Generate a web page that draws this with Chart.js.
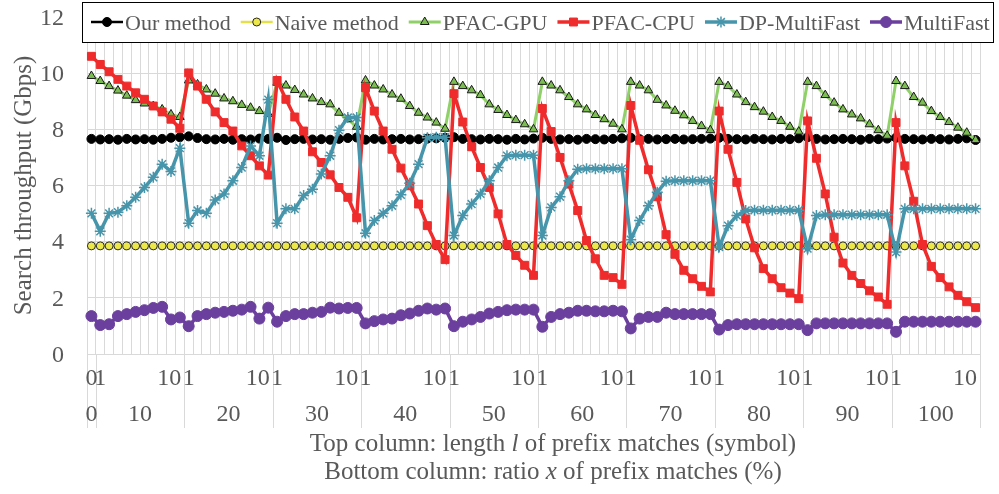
<!DOCTYPE html>
<html><head><meta charset="utf-8">
<script src="https://cdn.jsdelivr.net/npm/chart.js@4.4.1/dist/chart.umd.min.js"></script>
<style>html,body{margin:0;padding:0;background:#fff;}#wrap{width:999px;height:494px;position:relative;}</style>
</head><body><div id="wrap"><canvas id="c" width="999" height="494"></canvas></div>
<script>
// ---- categories / tick labels ----
const ratios = [0,10,20,30,40,50,60,70,80,90,100];
const lengthsPerRatio = [1,2,3,4,5,6,7,8,9,10];
const shownLengths = [0,1,10];
const catRatio = [0], catLength = [0];
for (const r of ratios.slice(1)) for (const l of lengthsPerRatio) { catRatio.push(r); catLength.push(l); }
const categories = catRatio.map((r,i) => r + '%, l=' + catLength[i]);

// ---- series (Gbps) ----
const ourMethod = [7.66,
 7.64,7.65,7.63,7.66,7.64,7.65,7.63,7.66,7.70,7.72,
 7.75,7.69,7.65,7.64,7.66,7.63,7.65,7.64,7.67,7.66,
 7.70,7.62,7.65,7.66,7.64,7.65,7.63,7.66,7.69,7.71,
 7.63,7.66,7.64,7.65,7.66,7.64,7.65,7.67,7.68,7.70,
 7.72,7.66,7.65,7.64,7.66,7.65,7.63,7.66,7.64,7.67,
 7.70,7.66,7.64,7.65,7.63,7.66,7.65,7.64,7.66,7.68,
 7.70,7.65,7.66,7.64,7.65,7.66,7.64,7.65,7.66,7.67,
 7.70,7.66,7.65,7.64,7.66,7.65,7.64,7.66,7.65,7.68,
 7.72,7.66,7.64,7.65,7.66,7.65,7.63,7.66,7.65,7.67,
 7.70,7.66,7.65,7.64,7.66,7.65,7.64,7.66,7.68,7.62];
const naiveMethod = [3.85,
 3.85,3.85,3.85,3.85,3.85,3.85,3.85,3.85,3.85,3.85,
 3.85,3.85,3.85,3.85,3.85,3.85,3.85,3.85,3.85,3.85,
 3.85,3.85,3.85,3.85,3.85,3.85,3.85,3.85,3.85,3.85,
 3.85,3.85,3.85,3.85,3.85,3.85,3.85,3.85,3.85,3.85,
 3.85,3.85,3.85,3.85,3.85,3.85,3.85,3.85,3.85,3.85,
 3.85,3.85,3.85,3.85,3.85,3.85,3.85,3.85,3.85,3.85,
 3.85,3.85,3.85,3.85,3.85,3.85,3.85,3.85,3.85,3.85,
 3.85,3.85,3.85,3.85,3.85,3.85,3.85,3.85,3.85,3.85,
 3.85,3.85,3.85,3.85,3.85,3.85,3.85,3.85,3.85,3.85,
 3.85,3.85,3.85,3.85,3.85,3.85,3.85,3.85,3.85,3.85];
const pfacGpu = [9.90,
 9.72,9.54,9.38,9.20,9.04,8.92,8.83,8.71,8.53,8.44,
 9.74,9.60,9.42,9.27,9.10,9.00,8.87,8.77,8.65,8.55,
 9.66,9.56,9.40,9.24,9.10,8.97,8.89,8.59,8.36,8.09,
 9.74,9.56,9.42,9.24,9.09,8.83,8.59,8.42,8.24,8.02,
 9.69,9.54,9.39,9.22,8.89,8.69,8.51,8.33,8.18,8.00,
 9.69,9.56,9.39,9.15,8.89,8.71,8.51,8.36,8.20,8.00,
 9.69,9.56,9.39,9.05,8.85,8.66,8.50,8.30,8.12,7.97,
 9.69,9.54,9.24,8.97,8.79,8.63,8.44,8.30,8.09,7.92,
 9.69,9.54,9.22,8.95,8.71,8.53,8.39,8.18,7.97,7.77,
 9.72,9.54,9.15,8.95,8.65,8.44,8.26,8.06,7.88,7.62];
const pfacCpu = [10.60,
 10.31,10.05,9.78,9.54,9.30,9.07,8.83,8.62,8.36,8.04,
 10.01,9.54,9.07,8.62,8.24,7.94,7.41,7.06,6.70,6.37,
 9.74,9.07,8.44,7.94,7.20,6.82,6.38,5.93,5.58,4.85,
 9.48,8.65,7.94,7.29,6.62,5.99,5.34,4.57,3.90,3.36,
 9.27,8.26,7.38,6.64,5.93,4.99,3.90,3.51,3.16,2.80,
 8.74,7.92,7.00,6.05,5.11,4.04,3.39,2.80,2.72,2.48,
 8.85,7.61,6.56,5.60,4.25,3.55,2.98,2.68,2.41,2.21,
 8.65,7.29,6.11,4.81,3.78,3.04,2.68,2.36,2.17,1.97,
 8.30,6.97,5.70,4.16,3.24,2.80,2.51,2.25,2.03,1.77,
 8.24,6.70,5.44,3.90,3.12,2.72,2.39,2.09,1.86,1.65];
const dpMultiFast = [5.01,
 4.37,5.01,5.05,5.28,5.58,5.93,6.29,6.76,6.50,7.33,
 4.66,5.11,5.01,5.48,5.70,6.17,6.64,7.41,7.06,9.06,
 4.66,5.17,5.17,5.64,5.87,6.41,7.06,7.97,8.42,8.42,
 4.30,4.75,5.01,5.28,5.67,6.08,6.76,7.70,7.72,7.72,
 4.22,4.93,5.34,5.70,6.17,6.64,7.06,7.08,7.08,7.08,
 4.22,5.22,5.60,6.17,6.58,6.60,6.60,6.60,6.60,6.60,
 4.07,4.75,5.28,5.76,6.15,6.17,6.17,6.17,6.17,6.17,
 3.81,4.57,4.93,5.11,5.12,5.12,5.12,5.12,5.12,5.12,
 3.75,4.93,4.96,4.96,4.96,4.96,4.96,4.96,4.96,4.96,
 3.63,5.17,5.17,5.17,5.17,5.17,5.17,5.17,5.17,5.17];
const multiFast = [1.35,
 1.03,1.06,1.35,1.42,1.50,1.56,1.64,1.68,1.23,1.30,
 0.99,1.35,1.42,1.47,1.50,1.54,1.58,1.68,1.26,1.65,
 1.15,1.35,1.42,1.42,1.47,1.50,1.65,1.62,1.64,1.64,
 1.09,1.17,1.23,1.26,1.38,1.44,1.54,1.62,1.58,1.62,
 0.99,1.15,1.23,1.32,1.44,1.50,1.56,1.58,1.58,1.58,
 0.97,1.32,1.42,1.47,1.54,1.54,1.52,1.52,1.54,1.52,
 0.91,1.26,1.32,1.32,1.47,1.42,1.42,1.42,1.42,1.42,
 0.87,1.03,1.06,1.06,1.06,1.06,1.06,1.06,1.06,1.06,
 0.85,1.09,1.09,1.09,1.09,1.09,1.09,1.09,1.09,1.09,
 0.79,1.15,1.15,1.15,1.15,1.15,1.15,1.15,1.15,1.15];

const seriesNames = ['Our method','Naive method','PFAC-GPU','PFAC-CPU','DP-MultiFast','MultiFast'];
const yTicks = [0,2,4,6,8,10,12];

const FONT = '"Liberation Serif", "Times New Roman", serif';
const TXT = '#595959';
const GRID = '#d9d9d9';

const styles = [
 {line:'#000000', fill:'#000000', pbc:'#000000', ps:'circle', r:4.5, bw:2.5, pbw:1},
 {line:'#e3e04a', fill:'#ece84a', pbc:'#2a2a2a', ps:'circle', r:4, bw:2.5, pbw:1},
 {line:'#8fd068', fill:'#7cbd52', pbc:'#1a1a1a', ps:'triangle', r:5, bw:3, pbw:1},
 {line:'#ef2b2b', fill:'#ef2b2b', pbc:'#ef2b2b', ps:'rect', r:5.6, bw:3.5, pbw:1},
 {line:'#4695ab', fill:'#4695ab', pbc:'#4695ab', ps:'star', r:5.5, bw:3.5, pbw:1.5},
 {line:'#6b3f9d', fill:'#6b3f9d', pbc:'#6b3f9d', ps:'circle', r:5.5, bw:3.5, pbw:1}
];
const allData = [ourMethod, naiveMethod, pfacGpu, pfacCpu, dpMultiFast, multiFast];

const datasets = allData.map((d,i) => ({
  label: seriesNames[i], data: d,
  borderColor: styles[i].line, backgroundColor: styles[i].fill,
  pointBackgroundColor: styles[i].fill, pointBorderColor: styles[i].pbc,
  pointStyle: styles[i].ps, pointRadius: styles[i].r, pointBorderWidth: styles[i].pbw,
  borderWidth: styles[i].bw, tension: 0, order: 5 - i
}));

const overlay = {
  id: 'overlay',
  afterDraw(chart) {
    const ctx = chart.ctx, xs = chart.scales.x, ca = chart.chartArea;
    const px = i => xs.getPixelForValue(i);
    const w = px(1) - px(0);
    ctx.save();
    // group separators below the axis
    ctx.strokeStyle = GRID; ctx.lineWidth = 1;
    const seps = [px(0) - w/2, px(0) + w/2];
    for (let g = 1; g < ratios.length; g++) seps.push(px(g*10) + w/2);
    seps.forEach(x => { const xx = Math.round(x) + 0.5; ctx.beginPath(); ctx.moveTo(xx, ca.bottom); ctx.lineTo(xx, 428); ctx.stroke(); });
    // top row: lengths
    ctx.fillStyle = TXT; ctx.font = '24px ' + FONT; ctx.textBaseline = 'alphabetic';
    catLength.forEach((l, i) => {
      if (!shownLengths.includes(l)) return;
      const s = String(l);
      if (l === 10) { ctx.textAlign = 'right'; ctx.fillText(s, px(i) + 1.5, 385); }
      else { ctx.textAlign = 'center'; ctx.fillText(s, px(i), 385); }
    });
    // bottom row: ratios
    ctx.textAlign = 'center';
    ratios.forEach(r => {
      const idx = catRatio.map((v,i) => v === r ? i : -1).filter(i => i >= 0);
      const c = (px(idx[0]) + px(idx[idx.length-1])) / 2;
      ctx.fillText(String(r), c, 421);
    });
    // axis title (two lines, italic variables)
    const drawMixed = (parts, cx, y) => {
      let total = 0;
      parts.forEach(p => { ctx.font = (p[1] ? 'italic ' : '') + '25px ' + FONT; total += ctx.measureText(p[0]).width; });
      let x = cx - total/2; ctx.textAlign = 'left';
      parts.forEach(p => { ctx.font = (p[1] ? 'italic ' : '') + '25px ' + FONT; ctx.fillText(p[0], x, y); x += ctx.measureText(p[0]).width; });
    };
    drawMixed([['Top column: length ',0],['l',1],[' of prefix matches (symbol)',0]], 553, 451);
    drawMixed([['Bottom column: ratio ',0],['x',1],[' of prefix matches (%)',0]], 553, 479);
    // legend box
    ctx.fillStyle = '#ffffff'; ctx.fillRect(82, 2, 912, 41);
    ctx.strokeStyle = '#000000'; ctx.lineWidth = 1; ctx.strokeRect(82.5, 2.5, 911, 40);
    let x = 91; const ly = 22;
    ctx.font = '22px ' + FONT; ctx.textAlign = 'left'; ctx.textBaseline = 'alphabetic';
    seriesNames.forEach((name, i) => {
      const st = styles[i];
      ctx.strokeStyle = st.line; ctx.lineWidth = st.bw;
      ctx.beginPath(); ctx.moveTo(x, ly); ctx.lineTo(x + 32, ly); ctx.stroke();
      ctx.fillStyle = st.fill; ctx.strokeStyle = st.pbc; ctx.lineWidth = st.pbw;
      Chart.helpers.drawPoint(ctx, {pointStyle: st.ps, radius: st.r, rotation: 0, borderWidth: st.pbw}, x + 16, ly);
      ctx.fillStyle = TXT; ctx.font = '22px ' + FONT;
      ctx.fillText(name, x + 34, 30);
      x = x + 34 + ctx.measureText(name).width + 10;
    });
    ctx.restore();
  }
};

new Chart(document.getElementById('c'), {
  type: 'line',
  data: { labels: categories, datasets },
  options: {
    responsive: false, animation: false, devicePixelRatio: 1,
    layout: { padding: { top: 17, right: 19, left: 0, bottom: 0 } },
    plugins: { legend: { display: false }, tooltip: { enabled: false } },
    scales: {
      x: {
        offset: true,
        grid: { color: GRID, lineWidth: 1, offset: true, drawTicks: false },
        border: { color: GRID },
        ticks: { display: false },
        afterFit: s => { s.height = 140; }
      },
      y: {
        min: 0, max: 12,
        afterBuildTicks: s => { s.ticks = yTicks.map(v => ({value: v})); },
        grid: { color: GRID, lineWidth: 1, drawTicks: true, tickLength: 23, tickColor: 'rgba(0,0,0,0)' },
        border: { display: false },
        ticks: { color: TXT, font: { family: FONT, size: 24 }, padding: 0, labelOffset: 1.5 },
        title: { display: true, text: 'Search throughput (Gbps)', color: TXT, font: { family: FONT, size: 25 }, padding: { top: 9, bottom: 0 } },
        afterFit: s => { s.width = 87; }
      }
    }
  },
  plugins: [overlay]
});
</script></body></html>
